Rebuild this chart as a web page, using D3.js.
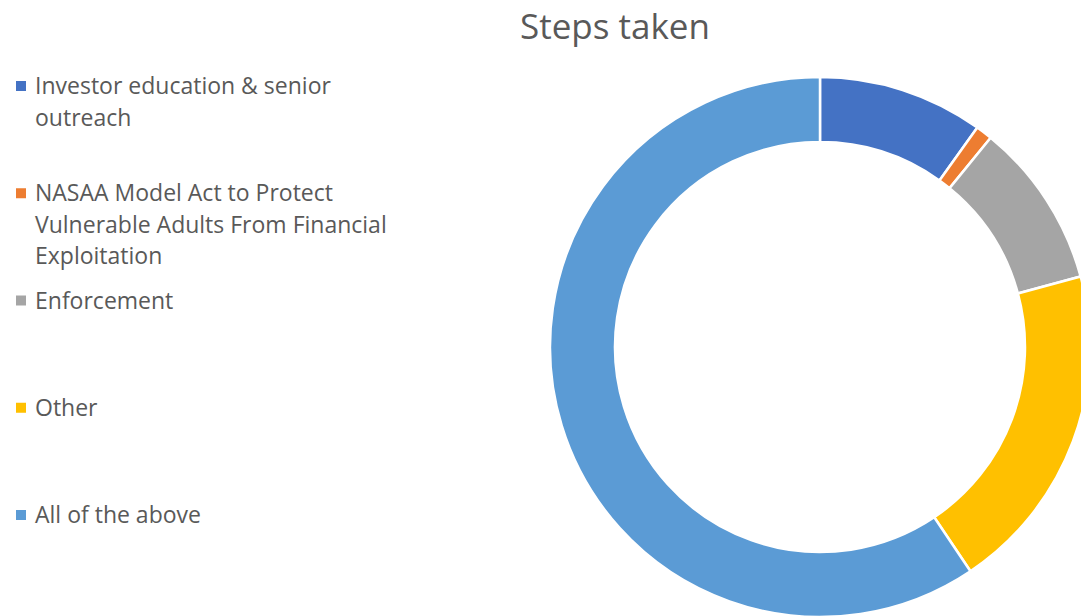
<!DOCTYPE html>
<html>
<head>
<meta charset="utf-8">
<script src="https://cdn.jsdelivr.net/npm/d3@7"></script>
<style>
  body { margin: 0; background: #fff; }
  text { font-family: "Open Sans", Lato, sans-serif; fill: #595959; }
</style>
</head>
<body>
<div id="chart"></div>
<script>
var width = 1081,
    height = 616;

// data
var categories = ['Investor education & senior outreach',
    'NASAA Model Act to Protect Vulnerable Adults From Financial Exploitation',
    'Enforcement', 'Other', 'All of the above'];
var labelLines = [
    ['Investor education & senior', 'outreach'],
    ['NASAA Model Act to Protect', 'Vulnerable Adults From Financial', 'Exploitation'],
    ['Enforcement'],
    ['Other'],
    ['All of the above']
];
var values = [10, 1, 10, 20, 60];
var colors = ['#4472C4', '#ED7D31', '#A5A5A5', '#FFC000', '#5B9BD5'];

var svg = d3.select('#chart')
    .append('svg')
    .attr('width', width)
    .attr('height', height)

svg.append('text')
    .attr('x', 615)
    .attr('y', 39)
    .attr('text-anchor', 'middle')
    .attr('font-size', 35)
    .text('Steps taken')

var cx = 820, cy = 347, outerR = 270, innerR = 205;

var pie = d3.pie().sort(null).value(function (d) { return d; });
var arc = d3.arc().innerRadius(innerR).outerRadius(outerR);

var g = svg.append('g')
    .attr('transform', 'translate(' + cx + ',' + cy + ')')

g.selectAll('path')
    .data(pie(values))
    .enter()
    .append('path')
    .attr('d', arc)
    .attr('fill', function (d, i) { return colors[i]; })
    .attr('stroke', '#fff')
    .attr('stroke-width', 2.5)

// legend, one slot per category
var legendY = d3.scalePoint()
    .domain(categories)
    .range([86, 515])

var legend = svg.selectAll('.legend')
    .data(categories)
    .enter()
    .append('g')
    .attr('class', 'legend')
    .attr('transform', function (d) { return 'translate(0,' + legendY(d) + ')'; })

legend.append('rect')
    .attr('x', 16)
    .attr('y', -5)
    .attr('width', 10)
    .attr('height', 10)
    .attr('fill', function (d, i) { return colors[i]; })

legend.each(function (d, i) {
    var t = d3.select(this).append('text')
        .attr('x', 35)
        .attr('y', 8)
        .attr('font-size', 23)
    t.selectAll('tspan')
        .data(labelLines[i])
        .enter()
        .append('tspan')
        .attr('x', 35)
        .attr('dy', function (l, j) { return j === 0 ? 0 : 31.5; })
        .text(function (l) { return l; })
})
</script>
</body>
</html>
